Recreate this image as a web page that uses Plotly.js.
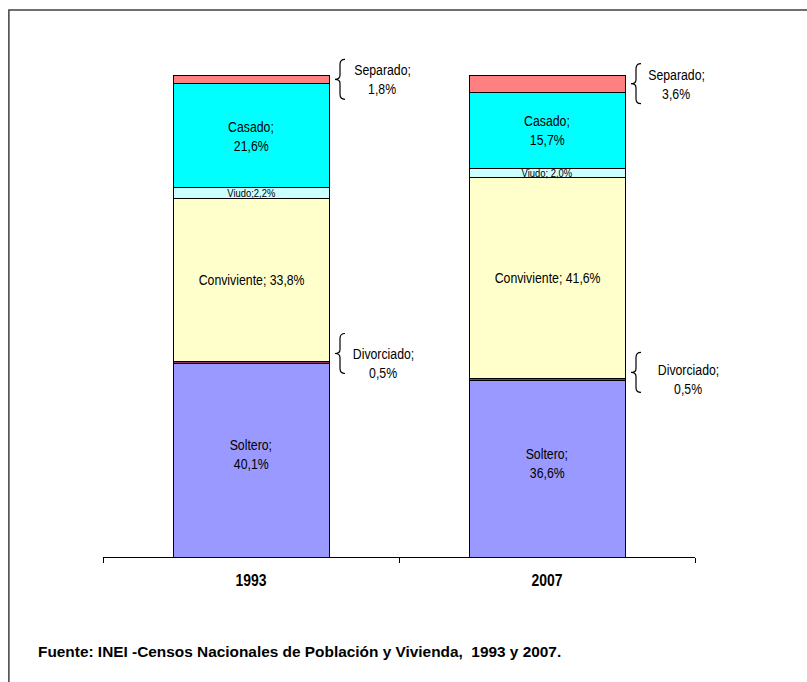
<!DOCTYPE html>
<html>
<head>
<meta charset="utf-8">
<script src="https://cdn.plot.ly/plotly-3.0.1.min.js"></script>
<style>
  html, body { margin: 0; padding: 0; background: #ffffff; }
  #chart { width: 807px; height: 682px; }
</style>
</head>
<body>
<div id="chart"></div>
<script>
// ---- Data ----
const categories = ['1993', '2007'];
const seriesNames = ['Soltero', 'Divorciado', 'Conviviente', 'Viudo', 'Casado', 'Separado'];
const soltero     = [40.1, 36.6];
const divorciado  = [0.5, 0.5];
const conviviente = [33.8, 41.6];
const viudo       = [2.2, 2.0];
const casado      = [21.6, 15.7];
const separado    = [1.8, 3.6];
const sourceNote  = 'Fuente: INEI -Censos Nacionales de Población y Vivienda,  1993 y 2007.';

// ---- Styles ----
const FONT = '"Liberation Sans", Arial, sans-serif';
const NARROW = 0.82;   // horizontal condensing to imitate a narrow face
const colors = {
  Soltero: '#9999FF', Divorciado: '#993366', Conviviente: '#FFFFCC',
  Viudo: '#CCFFFF', Casado: '#00FFFF', Separado: '#FF8080'
};
const seriesValues = [soltero, divorciado, conviviente, viudo, casado, separado];

const fmt = v => v.toFixed(1).replace('.', ',') + '%';

const traces = seriesNames.map((name, s) => ({
  type: 'bar',
  name: name,
  x: categories,
  y: seriesValues[s],
  marker: { color: colors[name], line: { color: '#000000', width: 1 } },
  hoverinfo: 'skip',
  showlegend: false
}));

// cumulative bounds
const bases = seriesValues.map((vals, s) =>
  vals.map((v, i) => seriesValues.slice(0, s).reduce((a, arr) => a + arr[i], 0)));
const mid = (s, i) => bases[s][i] + seriesValues[s][i] / 2;

const annotations = [];
const condense = [];
const shapes = [];
const lab = (i, y, text, size, yshift, xshift) => {
  annotations.push({
    x: i, y: y, xref: 'x', yref: 'y', text: text, showarrow: false,
    font: { family: FONT, size: size, color: '#000000' },
    xanchor: 'center', yanchor: 'middle', yshift: yshift || 0, xshift: xshift || 0
  });
  condense.push(NARROW);
};

categories.forEach((c, i) => {
  lab(i, mid(0, i), 'Soltero;', 15, 15.5);
  lab(i, mid(0, i), fmt(soltero[i]), 15, -3.5);
  lab(i, mid(2, i), 'Conviviente; ' + fmt(conviviente[i]), 15, 0);
  lab(i, mid(3, i), (i === 0 ? 'Viudo;' : 'Viudo; ') + fmt(viudo[i]), 11.5, 0);
  lab(i, mid(4, i), 'Casado;', 15, 9.5);
  lab(i, mid(4, i), fmt(casado[i]), 15, -9.5);
});

// Outside labels with braces (Separado, Divorciado)
const outside = [
  { s: 5, i: 0, braceShift: 0,  labelX: 131 },
  { s: 5, i: 1, braceShift: 0,  labelX: 129 },
  { s: 1, i: 0, braceShift: 9,  labelX: 132 },
  { s: 1, i: 1, braceShift: 7,  labelX: 141 }
];
const bracePath = (x0, dy) => {
  const h = 20, w = 10;
  const Y = v => v + dy;
  return `M${x0 + w},${Y(h)} Q${x0 + 5},${Y(h)} ${x0 + 5},${Y(h - 5)} L${x0 + 5},${Y(4)} ` +
         `Q${x0 + 5},${Y(0)} ${x0},${Y(0)} Q${x0 + 5},${Y(0)} ${x0 + 5},${Y(-4)} ` +
         `L${x0 + 5},${Y(-(h - 5))} Q${x0 + 5},${Y(-h)} ${x0 + w},${Y(-h)}`;
};
outside.forEach(o => {
  const y = mid(o.s, o.i);
  shapes.push({
    type: 'path', xref: 'paper', yref: 'paper', xsizemode: 'pixel', ysizemode: 'pixel',
    xanchor: (o.i + 0.5) / categories.length, yanchor: y / 100,
    path: bracePath(84, o.braceShift),
    line: { color: '#000000', width: 1.2 }
  });
  lab(o.i, y, seriesNames[o.s] + ';', 15, 9.5, o.labelX);
  lab(o.i, y, fmt(seriesValues[o.s][o.i]), 15, -9.5, o.labelX);
});

// Source note
annotations.push({
  xref: 'paper', yref: 'paper', x: -0.113, y: -0.197, xanchor: 'left', yanchor: 'middle',
  text: sourceNote, showarrow: false,
  font: { family: FONT, size: 15.4, color: '#000000', weight: 'bold' }
});
condense.push(null);

// Outer frame
shapes.push({
  type: 'rect', xref: 'paper', yref: 'paper',
  x0: -0.159, y0: -0.4, x1: 1.3, y1: 1.135,
  line: { color: '#404040', width: 1.5 }, fillcolor: 'rgba(0,0,0,0)', layer: 'below'
});

const layout = {
  width: 807, height: 682,
  margin: { l: 103, r: 112, t: 75, b: 125 },
  paper_bgcolor: '#ffffff', plot_bgcolor: '#ffffff',
  barmode: 'stack', bargap: 0.473,
  showlegend: false,
  xaxis: {
    type: 'category', range: [-0.5, 1.5], autorange: false,
    showline: true, linecolor: '#000000', linewidth: 1,
    ticks: 'outside', tickson: 'boundaries', ticklen: 5, tickcolor: '#000000',
    tickfont: { family: FONT, size: 17, color: '#000000', weight: 'bold' },
    ticklabelstandoff: 8, tickangle: 0, showgrid: false, zeroline: false, fixedrange: true
  },
  yaxis: { range: [0, 100], autorange: false, visible: false, fixedrange: true },
  annotations: annotations,
  shapes: shapes,
  font: { family: FONT }
};

const squeeze = (t, f) => {
  const bb = t.getBBox();
  const cx = bb.x + bb.width / 2;
  const prev = t.getAttribute('transform') || '';
  t.setAttribute('transform', (prev + ` translate(${cx},0) scale(${f},1) translate(${-cx},0)`).trim());
};

Plotly.newPlot('chart', traces, layout, { displayModeBar: false, staticPlot: true }).then(gd => {
  gd.querySelectorAll('g.annotation').forEach(g => {
    const k = +g.getAttribute('data-index');
    const f = condense[k];
    const t = g.querySelector('text.annotation-text');
    if (f && t) squeeze(t, f);
  });
  gd.querySelectorAll('.xtick text').forEach(t => squeeze(t, NARROW));
});
</script>
</body>
</html>
